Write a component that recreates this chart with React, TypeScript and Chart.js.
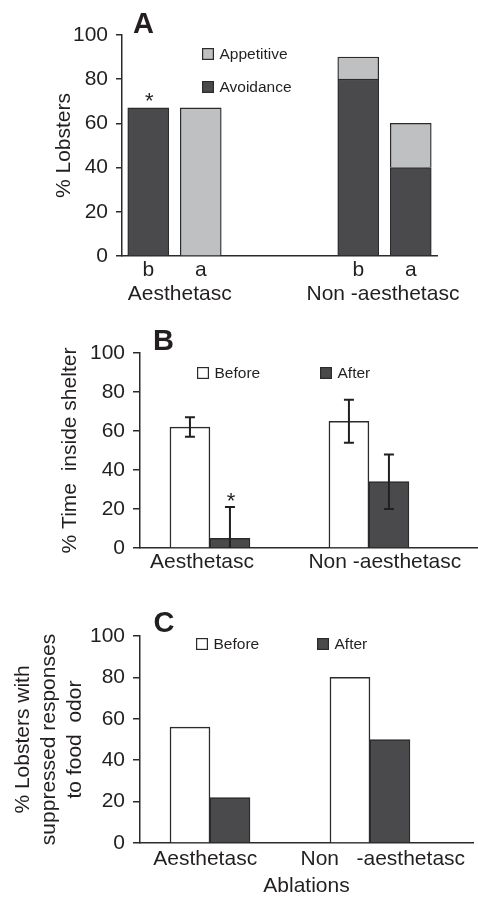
import React, { useEffect, useRef } from 'react';
import { Chart, registerables } from 'chart.js';

Chart.register(...registerables);

// ---------- data ----------
// Panel A: stacked responses, slots b / a per ablation group (two empty slots form the gap)
const A_SLOTS = ['b', 'a', '', '', 'b', 'a'];
const A_GROUPS = ['Aesthetasc', 'Non -aesthetasc'];
const A_AVOIDANCE = [67, null, null, null, 80, 40];
const A_APPETITIVE = [null, 67, null, null, 10, 20];
const A_STARS = [true, false, false, false, false, false];

// Panel B: % time inside shelter (mean and error)
const B_GROUPS = ['Aesthetasc', 'Non -aesthetasc'];
const B_BEFORE = [62, 65];
const B_BEFORE_ERR = [5, 11];
const B_AFTER = [5, 34];
const B_AFTER_ERR = [16, 14];
const B_STARS_AFTER = [true, false];

// Panel C: % lobsters with suppressed responses
const C_GROUPS = ['Aesthetasc', 'Non   -aesthetasc'];
const C_BEFORE = [56, 80];
const C_AFTER = [22, 50];

const Y_MIN = 0;
const Y_MAX = 100;
const Y_STEP = 20;

// ---------- style / layout ----------
const FONT = '"Liberation Sans", Arial, Helvetica, sans-serif';
const INK = '#231f20';
const DARK = '#4a4a4c';
const LIGHT = '#bfc0c2';
const WHITE = '#ffffff';
const EDGE = '#2b2b2b';
const W = 478;

// label placement (in category units) and group label centres for A
const A_GROUP_AT = [0.6, 4.47];
const B_LABEL_AT = [-0.05, 1.1];
const C_LABEL_AT = [-0.03, 1.08];

type TextItem = { text: string; x: number; y: number; size: number; bold?: boolean };

const textPlugin = (items: TextItem[]) => ({
  id: 'panelTexts',
  afterDraw(chart: any) {
    const ctx = chart.ctx;
    ctx.save();
    ctx.fillStyle = INK;
    ctx.textAlign = 'left';
    ctx.textBaseline = 'alphabetic';
    for (const it of items) {
      ctx.font = `${it.bold ? 'bold ' : ''}${it.size}px ${FONT}`;
      ctx.fillText(it.text, it.x, it.y);
    }
    ctx.restore();
  },
});

const legendPlugin = (order: number[], spots: { x: number; y: number }[]) => ({
  id: 'boxLegend',
  afterDraw(chart: any) {
    const ctx = chart.ctx;
    ctx.save();
    order.forEach((di, k) => {
      const ds = chart.data.datasets[di];
      const { x, y } = spots[k];
      ctx.fillStyle = ds.backgroundColor;
      ctx.fillRect(x, y, 12, 12);
      ctx.strokeStyle = EDGE;
      ctx.lineWidth = 1.2;
      ctx.strokeRect(x + 0.6, y + 0.6, 10.8, 10.8);
      ctx.fillStyle = INK;
      ctx.font = `15.5px ${FONT}`;
      ctx.textAlign = 'left';
      ctx.textBaseline = 'middle';
      ctx.fillText(ds.label, x + 17.5, y + 6.5);
    });
    ctx.restore();
  },
});

const marksPlugin = {
  id: 'errorsAndStars',
  afterDatasetsDraw(chart: any) {
    const ctx = chart.ctx;
    const ys = chart.scales.y;
    ctx.save();
    chart.data.datasets.forEach((ds: any, di: number) => {
      const meta = chart.getDatasetMeta(di);
      meta.data.forEach((bar: any, i: number) => {
        const raw = ds.data[i];
        if (raw === null || raw === undefined) return;
        const v = typeof raw === 'number' ? raw : raw.y;
        // stacked top value
        const parsed = meta._parsed[i];
        const topVal = parsed && parsed._stacks ? v : v;
        const e = ds.errors ? ds.errors[i] : 0;
        if (ds.errors) {
          const top = ys.getPixelForValue(v + e);
          const lowV = Math.max(0, v - e);
          const low = ys.getPixelForValue(lowV);
          ctx.strokeStyle = INK;
          ctx.lineWidth = 2;
          ctx.beginPath();
          ctx.moveTo(bar.x, top);
          ctx.lineTo(bar.x, low);
          ctx.moveTo(bar.x - 5, top);
          ctx.lineTo(bar.x + 5, top);
          if (v - e >= 0) {
            ctx.moveTo(bar.x - 5, low);
            ctx.lineTo(bar.x + 5, low);
          }
          ctx.stroke();
        }
        if (ds.stars && ds.stars[i]) {
          const yTop = ds.errors ? ys.getPixelForValue(v + e) : bar.y;
          ctx.fillStyle = INK;
          ctx.font = `22px ${FONT}`;
          ctx.textAlign = 'center';
          ctx.textBaseline = 'alphabetic';
          ctx.fillText('*', bar.x + 1, yTop + 0.5);
        }
        void topVal;
      });
    });
    ctx.restore();
  },
};

const tickFont = { family: FONT, size: 21 };

function yAxis(title: string | string[], titlePad: number, width: number, tickLen: number, lineHeight = 1.2) {
  return {
    min: Y_MIN,
    max: Y_MAX,
    ticks: { stepSize: Y_STEP, color: INK, font: tickFont, padding: 8 },
    grid: { drawOnChartArea: false, drawTicks: true, tickLength: tickLen, color: EDGE, lineWidth: 1.5 },
    border: { display: true, color: EDGE, width: 1.5 },
    title: {
      display: true,
      text: title,
      color: INK,
      font: { family: FONT, size: 21, lineHeight },
      padding: { top: titlePad, bottom: 0 },
    },
    afterFit(s: any) {
      s.width = width;
    },
  };
}

function linearX(groups: string[], at: number[], min: number, max: number, height: number, pad: number, extra: any = {}) {
  return {
    type: 'linear',
    min,
    max,
    bounds: 'data',
    offset: false,
    grid: { display: false, drawTicks: false, offset: false },
    border: { display: true, color: EDGE, width: 1.5 },
    ticks: {
      color: INK,
      font: tickFont,
      padding: pad,
      autoSkip: false,
      maxRotation: 0,
      callback: (_v: any, i: number) => groups[i],
    },
    afterBuildTicks(s: any) {
      s.ticks = at.map((v) => ({ value: v }));
    },
    afterFit(s: any) {
      s.height = height;
    },
    ...extra,
  };
}

const baseOptions = {
  responsive: false,
  animation: false,
  events: [],
  plugins: { legend: { display: false }, tooltip: { enabled: false } },
};

function configA(): any {
  return {
    type: 'bar',
    data: {
      labels: A_SLOTS,
      datasets: [
        {
          label: 'Avoidance',
          data: A_AVOIDANCE,
          backgroundColor: DARK,
          borderColor: EDGE,
          borderWidth: 1.3,
          barThickness: 41,
          xAxisID: 'x',
          stars: A_STARS,
        },
        {
          label: 'Appetitive',
          data: A_APPETITIVE,
          backgroundColor: LIGHT,
          borderColor: EDGE,
          borderWidth: 1.3,
          barThickness: 41,
          xAxisID: 'x',
        },
      ],
    },
    options: {
      ...baseOptions,
      layout: { padding: { top: 35, left: 0, right: 41, bottom: 0 } },
      scales: {
        x: {
          type: 'category',
          stacked: true,
          offset: true,
          grid: { display: false, drawTicks: false },
          border: { display: true, color: EDGE, width: 1.5 },
          ticks: { color: INK, font: tickFont, padding: 2, autoSkip: false, maxRotation: 0 },
          afterFit(s: any) {
            s.height = 26;
          },
        },
        x2: {
          ...linearX(A_GROUPS, A_GROUP_AT, -0.5, 5.5, 28, 0),
          axis: 'x',
          position: 'bottom',
          weight: 1,
          border: { display: false },
        },
        y: { ...yAxis('% Lobsters', 52, 122, 6), stacked: true },
      },
    },
    plugins: [
      marksPlugin,
      legendPlugin([1, 0], [
        { x: 202, y: 48 },
        { x: 202, y: 81 },
      ]),
      textPlugin([{ text: 'A', x: 133, y: 33, size: 29, bold: true }]),
    ],
  };
}

function configB(): any {
  return {
    type: 'bar',
    data: {
      datasets: [
        {
          label: 'Before',
          data: B_BEFORE.map((v, i) => ({ x: i, y: v })),
          errors: B_BEFORE_ERR,
          backgroundColor: WHITE,
          borderColor: EDGE,
          borderWidth: 1.5,
          barThickness: 40,
        },
        {
          label: 'After',
          data: B_AFTER.map((v, i) => ({ x: i, y: v })),
          errors: B_AFTER_ERR,
          stars: B_STARS_AFTER,
          backgroundColor: DARK,
          borderColor: EDGE,
          borderWidth: 1.5,
          barThickness: 40,
        },
      ],
    },
    options: {
      ...baseOptions,
      layout: { padding: { top: 53, left: 0, right: 0, bottom: 0 } },
      scales: {
        x: linearX(B_GROUPS, B_LABEL_AT, -0.44, 1.686, 52, 2),
        y: yAxis('% Time  inside shelter', 58, 140, 7),
      },
    },
    plugins: [
      marksPlugin,
      legendPlugin([0, 1], [
        { x: 197, y: 67 },
        { x: 320, y: 67 },
      ]),
      textPlugin([{ text: 'B', x: 153, y: 50, size: 29, bold: true }]),
    ],
  };
}

function configC(): any {
  return {
    type: 'bar',
    data: {
      datasets: [
        {
          label: 'Before',
          data: C_BEFORE.map((v, i) => ({ x: i, y: v })),
          backgroundColor: WHITE,
          borderColor: EDGE,
          borderWidth: 1.5,
          barThickness: 40,
        },
        {
          label: 'After',
          data: C_AFTER.map((v, i) => ({ x: i, y: v })),
          backgroundColor: DARK,
          borderColor: EDGE,
          borderWidth: 1.5,
          barThickness: 40,
        },
      ],
    },
    options: {
      ...baseOptions,
      layout: { padding: { top: 36, left: 0, right: 5, bottom: 0 } },
      scales: {
        x: linearX(C_GROUPS, C_LABEL_AT, -0.4375, 1.644, 54, 4, {
          title: {
            display: true,
            text: 'Ablations',
            color: INK,
            font: { family: FONT, size: 21, lineHeight: 1 },
            padding: { top: 0, bottom: 0 },
          },
        }),
        y: yAxis(['% Lobsters with', 'suppressed responses', 'to food  odor'], 10, 140, 7, 1.238),
      },
    },
    plugins: [
      marksPlugin,
      legendPlugin([0, 1], [
        { x: 196, y: 38 },
        { x: 317, y: 38 },
      ]),
      textPlugin([{ text: 'C', x: 153.5, y: 31.5, size: 29, bold: true }]),
    ],
  };
}

function Panel({ top, height, build }: { top: number; height: number; build: () => any }) {
  const ref = useRef<HTMLCanvasElement>(null);
  useEffect(() => {
    if (!ref.current) return;
    const chart = new Chart(ref.current, build());
    return () => chart.destroy();
  }, [build]);
  return (
    <canvas
      ref={ref}
      width={W}
      height={height}
      style={{ position: 'absolute', left: 0, top, width: W, height }}
    />
  );
}

export default function App() {
  return (
    <div
      style={{
        position: 'absolute',
        left: 0,
        top: 0,
        width: W,
        height: 897,
        overflow: 'hidden',
        background: '#ffffff',
      }}
    >
      <Panel top={0} height={310} build={configA} />
      <Panel top={300} height={300} build={configB} />
      <Panel top={600} height={297} build={configC} />
    </div>
  );
}
